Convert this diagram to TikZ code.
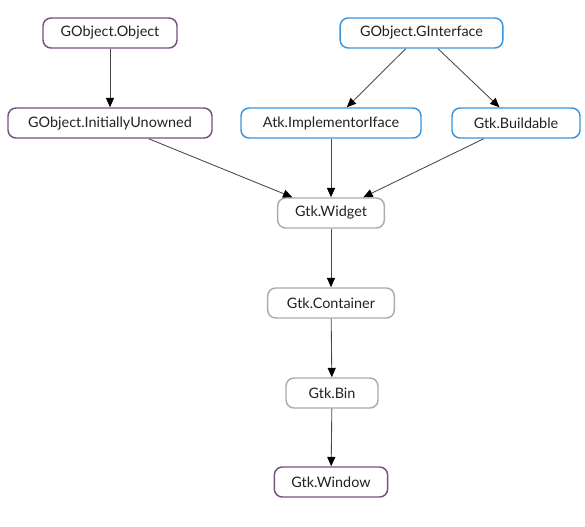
\documentclass[tikz,border=0pt]{standalone}
\usepackage{fontspec}
\setmainfont{Lato}
\usetikzlibrary{arrows.meta}

\definecolor{hierClassStroke}{HTML}{76507E}
\definecolor{hierIfaceStroke}{HTML}{3A95DB}
\definecolor{hierGtkStroke}{HTML}{ABABAB}
\definecolor{hierEdge}{HTML}{4A4A4A}
\definecolor{hierText}{HTML}{222222}

\tikzset{
  hierbox/.style={draw, rounded corners=6pt, line width=1.1pt, fill=white,
    text=hierText, minimum height=22.5pt, inner xsep=0pt,
    font=\fontsize{10.8}{12}\selectfont},
  classbox/.style={hierbox, draw=hierClassStroke},
  ifacebox/.style={hierbox, draw=hierIfaceStroke},
  gtkbox/.style={hierbox, draw=hierGtkStroke},
  inherit/.style={draw=hierEdge, line width=0.65pt,
    -{Triangle[length=7pt,width=6pt,fill=black,color=black]}}
}

\begin{document}
\begin{tikzpicture}[x=0.75pt,y=-0.75pt]
  \useasboundingbox[fill=white] (0,0) rectangle (585,526);

  % ---- top row ----
  \node[classbox,minimum width=100.5pt] (gobject)    at (110,33)   {GObject.Object};
  \node[ifacebox,minimum width=122pt]   (ginterface) at (421.5,33) {GObject.GInterface};

  % ---- second row ----
  \node[classbox,minimum width=153pt]   (unowned)    at (110,123)  {GObject.InitiallyUnowned};
  \node[ifacebox,minimum width=135pt]   (implementor) at (331,123) {Atk.ImplementorIface};
  \node[ifacebox,minimum width=96pt]    (buildable)  at (516,123)  {Gtk.Buildable};

  % ---- gtk chain ----
  \node[gtkbox,minimum width=80pt]      (widget)     at (331,213)  {Gtk.Widget};
  \node[gtkbox,minimum width=95pt]      (container)  at (331,303)  {Gtk.Container};
  \node[gtkbox,minimum width=69pt]      (bin)        at (332,393)  {Gtk.Bin};
  \node[classbox,minimum width=85pt]    (window)     at (331,482)  {Gtk.Window};

  % ---- inheritance edges ----
  \draw[inherit] (gobject)    -- (unowned);
  \draw[inherit] (ginterface) -- (implementor);
  \draw[inherit] (ginterface) -- (buildable);
  \draw[inherit] (unowned)    -- (widget);
  \draw[inherit] (implementor) -- (widget);
  \draw[inherit] (buildable)  -- (widget);
  \draw[inherit] (widget)     -- (container);
  \draw[inherit] (container)  -- (bin);
  \draw[inherit] (bin)        -- (window);
\end{tikzpicture}
\end{document}
